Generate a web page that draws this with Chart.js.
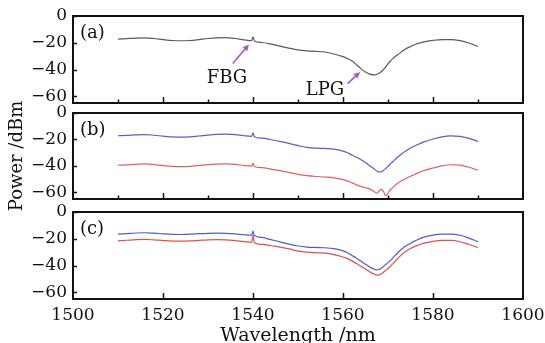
<!DOCTYPE html>
<html><head><meta charset="utf-8">
<script src="https://cdn.jsdelivr.net/npm/chart.js@4.4.0/dist/chart.umd.min.js"></script>
<style>
html,body{margin:0;padding:0;background:#fff;}
#wrap{position:relative;width:545px;height:343px;overflow:hidden;}
canvas{position:absolute;left:0;}
</style></head><body>
<div id="wrap">
<canvas id="ca" width="545" height="108" style="top:0px"></canvas>
<canvas id="cb" width="545" height="140" style="top:80px"></canvas>
<canvas id="cc" width="545" height="143" style="top:200px"></canvas>
</div>
<script>
// ---------------- data ----------------
const wavelengths = [1510,1512,1514,1516,1518,1520,1522,1524,1526,1528,1530,1532,1534,1536,1538,1539.7,1540,1540.3,
  1542,1544,1546,1548,1550,1552,1554,1556,1558,1560,1561,1562,1563,1564,1565,1566,1567,1567.5,1568,1568.5,1569,1569.5,
  1570,1570.5,1571,1572,1573,1574,1575,1576,1578,1580,1582,1584,1586,1588,1590];

const powerA = [-17.3,-16.9,-16.5,-16.3,-16.8,-17.6,-18.3,-18.5,-18.3,-17.6,-16.8,-16.3,-16.2,-16.8,-17.8,-18.4,-15.5,-18.6,
  -19.8,-21,-22.5,-24,-25.3,-26,-26.4,-26.9,-28.4,-30.4,-31.8,-33.7,-36.4,-39.3,-41.8,-43.4,-44,-43.7,-42.8,-41.6,-40,-38,
  -35.8,-33.8,-32,-29.3,-26.8,-24.5,-22.8,-21.3,-19.3,-18.2,-17.6,-17.6,-18.4,-20.2,-22.8];

const powerBBlue = [-17.2,-16.9,-16.5,-16.3,-16.8,-17.5,-18.1,-18.3,-18,-17.4,-16.7,-16.2,-16,-16.3,-17.2,-17.7,-15,-17.9,
  -19,-20.2,-21.5,-23,-24.6,-26,-26.6,-26.8,-27.3,-28.8,-30,-31.8,-33.5,-35.3,-37.5,-40,-42.5,-43.8,-44.6,-44.5,-43.3,-42,
  -40.2,-38.5,-37,-33.8,-31,-28.5,-26.5,-24.8,-21.8,-19.7,-18,-17.3,-17.6,-19.2,-21.5];

const powerBRed = [-39.5,-39.2,-38.8,-38.5,-39,-39.8,-40.4,-40.6,-40.3,-39.7,-39,-38.6,-38.5,-38.8,-39.7,-40.2,-38,-40.4,
  -41.3,-42.4,-43.6,-45,-46.4,-47.4,-48,-48.4,-49,-50.3,-51.3,-52.8,-54.3,-55.5,-56.5,-57.5,-59.5,-60.7,-59,-57.8,-59.5,-62.5,
  -60.5,-58,-56.5,-53.5,-51.2,-49.5,-47.8,-46.3,-43.5,-41.6,-40,-39.1,-39.4,-41,-43.3];

const powerCBlue = [-16.5,-16.1,-15.7,-15.5,-15.8,-16.3,-16.7,-16.8,-16.6,-16.2,-15.9,-15.8,-16,-16.4,-17,-17.3,-14.3,-17.5,
  -19,-20.7,-22.3,-24,-25.4,-26.2,-26.5,-26.7,-27.4,-29,-30.5,-32.5,-34.5,-36.7,-39,-41.2,-42.8,-43.3,-43,-42,-40.6,-39.2,
  -37.8,-36.3,-34.6,-31,-27.8,-25.2,-23.3,-21.6,-18.8,-17.3,-16.6,-16.5,-17.4,-19.5,-22.3];

const powerCRed = [-21.5,-21.1,-20.7,-20.5,-20.8,-21.3,-21.7,-21.8,-21.6,-21.2,-20.8,-20.6,-20.8,-21.4,-22.2,-22.7,-17.5,-23,
  -24.2,-25.2,-26.2,-27.6,-29.2,-30,-30.4,-30.7,-31.8,-33.6,-34.8,-36.5,-38.5,-40.5,-42.7,-44.8,-46.5,-47.2,-47,-46.2,-45,-43.6,
  -42.2,-40.7,-39,-35.3,-32,-29.4,-27.3,-25.7,-23.3,-21.9,-21.2,-21.2,-22.2,-24.3,-26.5];

const xTickValues = [1500,1520,1540,1560,1580,1600];
const xMajorInner = [1520,1540,1560,1580];
const xMinorTickValues = [1510,1530,1550,1570,1590];
const yTickValues = [0,-20,-40,-60];
const panelLabels = ['(a)','(b)','(c)'];
const annotationTexts = ['FBG','LPG'];
const annotationTextAt = [[1534.2,-46.7],[1556,-55.5]];
const annotationArrowFrom = [[1535.5,-35.5],[1561,-50.5]];
const annotationArrowTo = [[1539.1,-21.2],[1563.8,-41.8]];

// ---------------- drawing helpers ----------------
const SERIF = "'DejaVu Serif', 'Liberation Serif', serif";
const pts = arr => wavelengths.map((x, i) => ({x: x, y: arr[i]}));
const fmtY = v => (v < 0 ? '\u2212' + Math.abs(v) : String(v));
const fmtX = v => String(v);

const framePlugin = {
  id: 'frame',
  afterDatasetsDraw(chart, args, o) {
    const {ctx, chartArea: a, scales: {x, y}} = chart;
    ctx.save();
    ctx.strokeStyle = '#111';
    ctx.lineWidth = 1.5;
    ctx.beginPath();
    o.major.forEach(v => { const p = Math.round(x.getPixelForValue(v)) + 0.5; ctx.moveTo(p, a.bottom); ctx.lineTo(p, a.bottom - 6); });
    o.minor.forEach(v => { const p = Math.round(x.getPixelForValue(v)) + 0.5; ctx.moveTo(p, a.bottom); ctx.lineTo(p, a.bottom - 3.5); });
    yTickValues.forEach(v => { const p = Math.round(y.getPixelForValue(v)) + 0.5; ctx.moveTo(a.left, p); ctx.lineTo(a.left + 4, p); });
    ctx.stroke();
    ctx.lineWidth = 2;
    ctx.strokeRect(a.left, a.top, a.right - a.left, a.bottom - a.top);
    ctx.fillStyle = '#111';
    ctx.font = '18px ' + SERIF;
    ctx.textBaseline = 'middle';
    ctx.textAlign = 'left';
    ctx.fillText(o.label, a.left + 7, a.top + 17);
    if (o.annotate) {
      annotationTexts.forEach((t, i) => {
        ctx.fillStyle = '#111';
        ctx.textAlign = 'center';
        ctx.fillText(t, x.getPixelForValue(annotationTextAt[i][0]), y.getPixelForValue(annotationTextAt[i][1]));
        const x0 = x.getPixelForValue(annotationArrowFrom[i][0]), y0 = y.getPixelForValue(annotationArrowFrom[i][1]);
        const x1 = x.getPixelForValue(annotationArrowTo[i][0]), y1 = y.getPixelForValue(annotationArrowTo[i][1]);
        const ang = Math.atan2(y1 - y0, x1 - x0);
        ctx.strokeStyle = '#a35ac6'; ctx.fillStyle = '#a35ac6'; ctx.lineWidth = 1.6;
        ctx.beginPath(); ctx.moveTo(x0, y0);
        ctx.lineTo(x1 - 5 * Math.cos(ang), y1 - 5 * Math.sin(ang)); ctx.stroke();
        ctx.beginPath(); ctx.moveTo(x1, y1);
        ctx.lineTo(x1 - 7 * Math.cos(ang - 0.45), y1 - 7 * Math.sin(ang - 0.45));
        ctx.lineTo(x1 - 7 * Math.cos(ang + 0.45), y1 - 7 * Math.sin(ang + 0.45));
        ctx.closePath(); ctx.fill();
      });
    }
    ctx.restore();
  }
};

function line(arr, color) {
  return {data: pts(arr), borderColor: color, borderWidth: 1.2, pointRadius: 0,
    cubicInterpolationMode: 'monotone', borderJoinStyle: 'round', fill: false};
}

function makeChart(id, datasets, cfg) {
  return new Chart(document.getElementById(id), {
    type: 'line',
    data: {datasets: datasets},
    plugins: [framePlugin],
    options: {
      responsive: false, animation: false, events: [],
      layout: {padding: {left: 0, right: 22, top: cfg.padTop, bottom: cfg.padBottom}},
      plugins: {legend: {display: false}, tooltip: {enabled: false},
        frame: {label: cfg.label, major: xMajorInner, minor: cfg.minor, annotate: cfg.annotate}},
      scales: {
        x: {type: 'linear', min: 1500, max: 1600, display: cfg.showX,
          afterBuildTicks: s => { s.ticks = xTickValues.map(v => ({value: v})); },
          afterFit: s => { s.height = cfg.xHeight; s.paddingLeft = 0; s.paddingRight = 0; },
          grid: {display: false, drawTicks: false}, border: {display: false},
          ticks: {padding: 6, color: '#111', font: {family: SERIF, size: 17}, callback: fmtX},
          title: {display: cfg.showX, text: 'Wavelength /nm', color: '#111',
            font: {family: SERIF, size: 19, lineHeight: 0.75}, padding: {top: 0, bottom: 0}}
        },
        y: {type: 'linear', min: -65, max: 0,
          afterBuildTicks: s => { s.ticks = yTickValues.map(v => ({value: v})); },
          afterFit: s => { s.width = 73; s.paddingTop = 0; s.paddingBottom = 0; },
          grid: {display: false, drawTicks: false}, border: {display: false},
          ticks: {padding: 6, color: '#111', font: {family: SERIF, size: 17}, callback: fmtY},
          title: {display: cfg.yTitle, text: 'Power /dBm', color: '#111',
            font: {family: SERIF, size: 18}, padding: {top: 7, bottom: 0}}
        }
      }
    }
  });
}

makeChart('ca', [line(powerA, '#5a5a5a')],
  {padTop: 16, padBottom: 5, label: panelLabels[0], minor: xMinorTickValues, annotate: true, showX: false, xHeight: 0, yTitle: false});
makeChart('cb', [line(powerBBlue, '#5560c8'), line(powerBRed, '#e06060')],
  {padTop: 33, padBottom: 21, label: panelLabels[1], minor: xMinorTickValues, annotate: false, showX: false, xHeight: 0, yTitle: true});
makeChart('cc', [line(powerCBlue, '#4f5ccf'), line(powerCRed, '#e05050')],
  {padTop: 12, padBottom: 0, label: panelLabels[2], minor: [], annotate: false, showX: true, xHeight: 44, yTitle: false});
</script>
</body></html>
